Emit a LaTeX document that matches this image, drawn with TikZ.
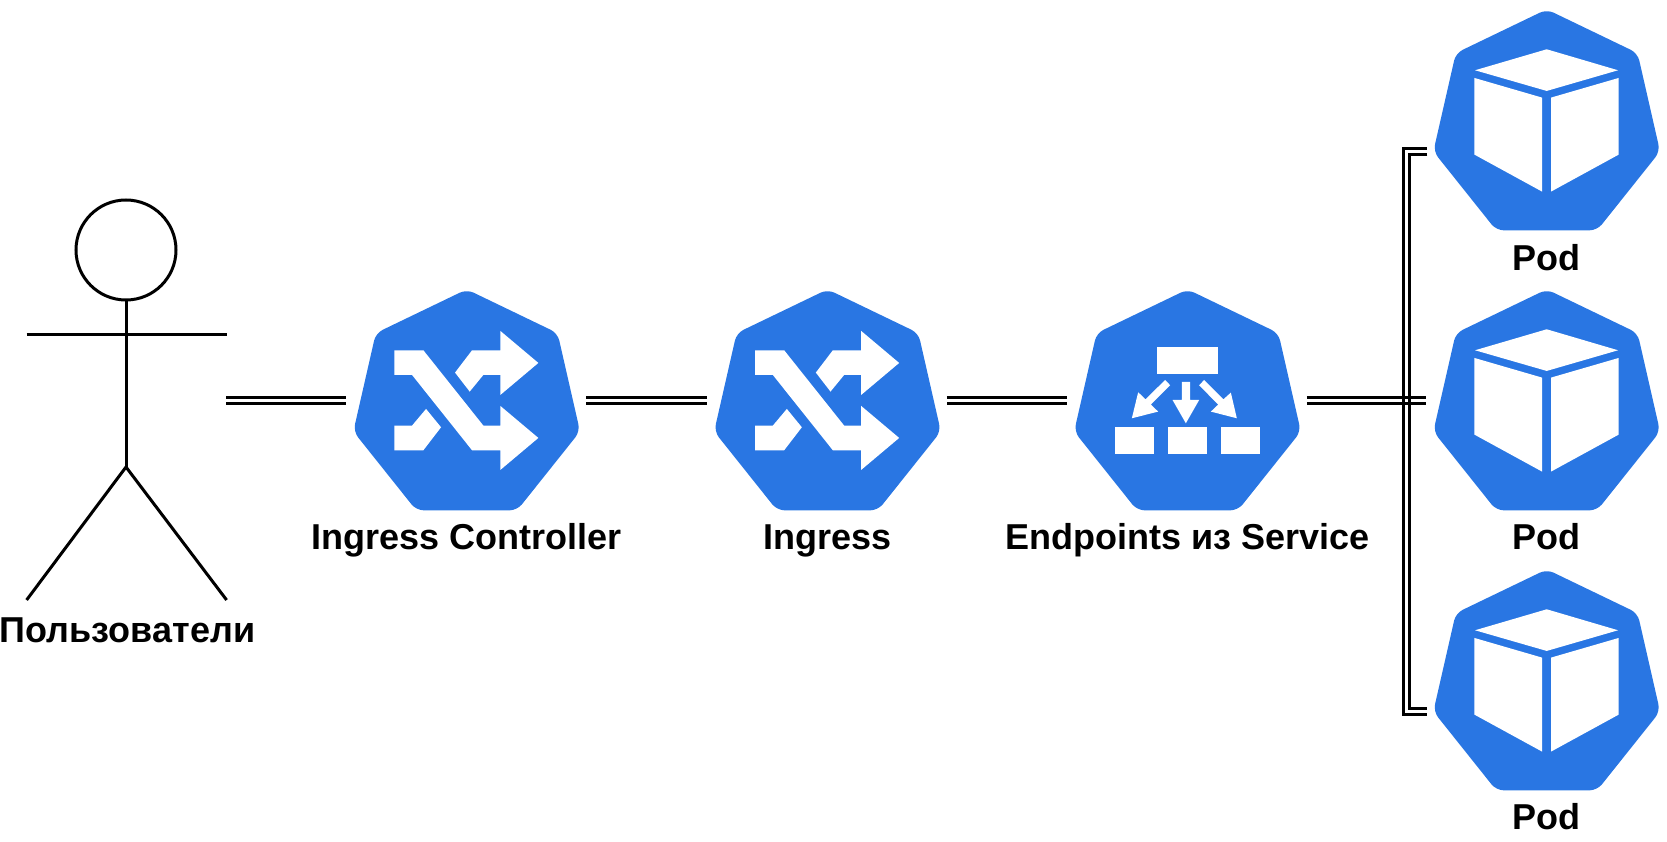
\documentclass[tikz,border=0pt]{standalone}
\usepackage{fontspec}
\setmainfont{Liberation Sans}
\usepackage{tikz}
\usetikzlibrary{calc,shapes.geometric}
\definecolor{kubeblue}{HTML}{2976E3}
\tikzset{
    heptagon/.style={regular polygon,regular polygon sides=7,minimum size=232.5pt,inner sep=0pt,outer sep=0pt,fill=kubeblue,rounded corners=7.5pt},
    glyph/.style={fill=white},
    iconscope/.style={shift={(#1.center)},x=0.3333pt,y=-0.3333pt},
    link/.style={draw=black,line width=2.7pt,double=white,double distance=3.3pt},
    gap/.style={shorten >=13pt,shorten <=12pt},
    actor/.style={draw=black,line width=3pt},
    caption/.style={font=\fontsize{36}{40}\selectfont\bfseries,anchor=base,inner sep=0pt}
}
\newcommand{\ingressicon}[1]{
\begin{scope}[iconscope=#1]
\fill[glyph] (-217,-166)--(-130,-166)--(50,60)--(101,60)--(101,1)--(215,97)--(101,193)--(101,134)--(16,134)--(-164,-92)--(-217,-92)--cycle;
\fill[glyph] (-35,-99)--(16,-166)--(101,-166)--(101,-224)--(215,-128)--(101,-32)--(101,-92)--(50,-92)--(9,-42)--cycle;
\fill[glyph] (-217,60)--(-164,60)--(-122,10)--(-77,65)--(-130,134)--(-217,134)--cycle;
\end{scope}
}
\newcommand{\serviceicon}[1]{
\begin{scope}[iconscope=#1]
\fill[glyph] (-92,-177) rectangle (91,-95);
\foreach \x in {-217,-59,100}{
\fill[glyph] (\x,64) rectangle ++(116,82);
}
\fill[glyph] (-17,-71)--(8,-71)--(8,-17)--(35,-17)--(-5,53)--(-45,-17)--(-17,-17)--cycle;
\fill[glyph] (-67,-77)--(-52,-61)--(-110,-3)--(-88,18)--(-167,38)--(-148,-40)--(-126,-19)--cycle;
\fill[glyph] (35,-61)--(50,-77)--(108,-19)--(130,-39)--(148,38)--(70,18)--(92,-3)--cycle;
\end{scope}
}
\newcommand{\podicon}[1]{
\begin{scope}[iconscope=#1]
\fill[glyph] (0,-229)--(214,-166)--(0,-104)--(-215,-166)--cycle;
\fill[glyph] (-217,-143)--(-14,-84)--(-14,198)--(-217,87)--cycle;
\fill[glyph] (13,-84)--(216,-143)--(216,87)--(13,198)--cycle;
\end{scope}
}
\begin{document}
\begin{tikzpicture}[x=1pt,y=-1pt]
\useasboundingbox (0,0) rectangle (1667,842);
\node[actor,circle,minimum size=100pt,inner sep=0pt,outer sep=0pt] (head) at (126,250) {};
\coordinate (hip) at (126,467);
\coordinate (armL) at (26.6,334);
\coordinate (armR) at (226.6,334);
\coordinate (footL) at (26.6,600);
\coordinate (footR) at (226.6,600);
\coordinate (userout) at (226,400.3);
\draw[actor] (head.south) -- (hip);
\draw[actor] (armL) -- (armR);
\draw[actor] (footL) -- (hip) -- (footR);
\node[caption] (userlabel) at (127.5,642.5) {Пользователи};

\node[heptagon] (ctrl) at (466.7,405.6) {};
\node[heptagon] (ingress) at (827.5,405.6) {};
\node[heptagon] (service) at (1187.5,405.6) {};
\ingressicon{ctrl}
\ingressicon{ingress}
\serviceicon{service}
\node[caption] (ctrllabel) at (466.7,549.5) {Ingress Controller};
\node[caption] (ingresslabel) at (827.5,549.5) {Ingress};
\node[caption] (servicelabel) at (1187.5,549.5) {Endpoints из Service};

\foreach \n/\y/\t in {1/125.6/270,2/405.6/549.5,3/685.6/829.5}{
\node[heptagon] (pod\n) at (1546.7,\y) {};
\podicon{pod\n}
\node[caption] (podlabel\n) at (1546.7,\t) {Pod};
}

\coordinate (bracketT) at (1427.3,151.3);
\coordinate (bracketB) at (1427.3,711.3);
\draw[link] (bracketT) -- (1406.3,151.3) -- (1406.3,711.3) -- (bracketB);
\draw[link,shorten >=13pt] (userout) -- ([yshift=5.3pt]ctrl.west);
\draw[link,gap] ([yshift=5.3pt]ctrl.east) -- ([yshift=5.3pt]ingress.west);
\draw[link,gap] ([yshift=5.3pt]ingress.east) -- ([yshift=5.3pt]service.west);
\foreach \s in {2.3,8.3}{
\draw[actor,line width=2.7pt,gap] ([yshift=\s pt]service.east) -- ([yshift=\s pt]pod2.west);
}
\end{tikzpicture}
\end{document}
